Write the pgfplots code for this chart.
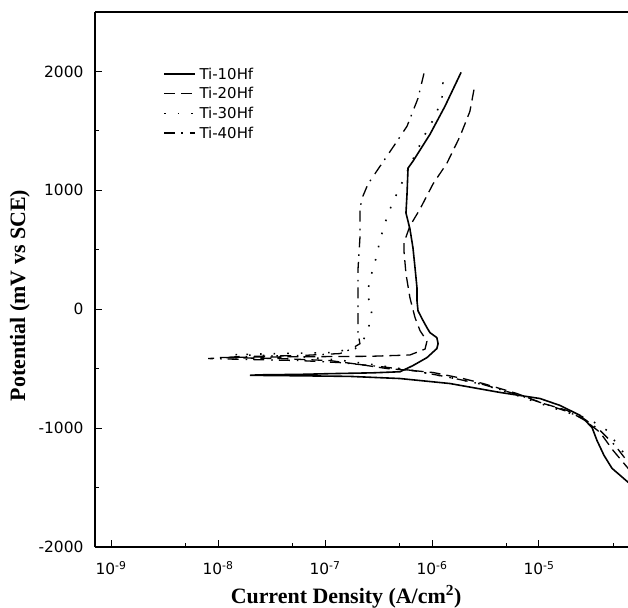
\documentclass[border=0pt]{standalone}
\usepackage{pgfplots}
\pgfplotsset{compat=1.18}
\usepackage{fontspec}
\setmainfont{Liberation Serif}
\newfontfamily\tickfont{DejaVu Sans}
\begin{document}
\begin{tikzpicture}
\useasboundingbox (-95bp,-61bp) rectangle (533bp,547bp);
\begin{axis}[
  at={(0bp,0bp)}, anchor=south west,
  width=533bp, height=535bp, scale only axis,
  xmode=log, xmin=7.08e-10, xmax=6.79e-5,
  ymin=-2000, ymax=2500,
  axis y line*=left,
  xtick pos=bottom, ytick pos=left,
  tick align=inside,
  major tick length=7bp, minor tick length=4bp,
  axis line style={line width=1.3bp},
  every tick/.style={black, line width=1bp},
  xtick={1e-9,1e-8,1e-7,1e-6,1e-5},
  xticklabels={10\textsuperscript{-9},10\textsuperscript{-8},10\textsuperscript{-7},10\textsuperscript{-6},10\textsuperscript{-5}},
  minor xtick={5e-10,5e-9,5e-8,5e-7,5e-6,5e-5},
  ytick={-2000,-1000,0,1000,2000},
  yticklabels={-2000,-1000,0,1000,2000},
  minor ytick={-1500,-500,500,1500},
  tick label style={font=\tickfont\fontsize{15.5}{17}\selectfont},
  xticklabel style={yshift=-11bp},
  yticklabel style={xshift=-8bp},
  xlabel={\textbf{Current Density (A/cm\textsuperscript{2})}},
  ylabel={\textbf{Potential (mV vs SCE)}},
  label style={font=\fontsize{22}{24}\selectfont},
  xlabel style={at={(axis description cs:0.471,-0.093)}, anchor=center},
  ylabel style={at={(axis description cs:-0.141,0.47)}, anchor=center},
  legend style={at={(axis description cs:0.128,0.898)}, anchor=north west,
    draw=none, fill=none, font=\tickfont\fontsize{15}{17}\selectfont,
    row sep=4.8bp, inner sep=0pt, nodes={inner xsep=3.5bp, inner ysep=1bp}},
  legend cell align=left,
  legend image code/.code={\draw[#1] (0bp,0bp) -- (31bp,0bp);},
]
% Ti-10Hf
\addplot[black, line width=1.6bp] coordinates {
(8.8e-5,-1539) (6.8e-5,-1455) (4.81e-5,-1338) (4.05e-5,-1229) (3.48e-5,-1103)
(3.13e-5,-994) (2.42e-5,-893) (1.57e-5,-809) (1.02e-5,-751) (4.32e-6,-700)
(1.47e-6,-625) (5.02e-7,-583) (1.71e-7,-565) (5.84e-8,-560) (1.99e-8,-556)
(2.4e-8,-552) (5.84e-8,-548) (1.11e-7,-542) (2.81e-7,-535) (5.02e-7,-526)
(6.64e-7,-474) (8.97e-7,-407) (1.11e-6,-331) (1.14e-6,-290) (1.11e-6,-239)
(9.57e-7,-197) (8.97e-7,-155) (8.07e-7,-80) (7.40e-7,-13) (7.24e-7,71)
(7.24e-7,180) (6.94e-7,348) (6.64e-7,516) (6.22e-7,675) (5.71e-7,809)
(5.84e-7,968) (5.97e-7,1187) (6.64e-7,1245) (9.57e-7,1471) (1.32e-6,1706)
(1.87e-6,1992)
};
% Ti-20Hf
\addplot[black, line width=1.3bp, dash pattern=on 11bp off 6bp] coordinates {
(8.8e-5,-1480) (6.8e-5,-1338) (4.92e-5,-1187) (3.72e-5,-1036) (2.69e-5,-935)
(1.83e-5,-851) (1.09e-5,-792) (6.22e-6,-709) (3.00e-6,-625) (1.95e-6,-583)
(1.02e-6,-532) (6.64e-7,-516) (3.79e-7,-499) (2.12e-7,-465) (1.11e-7,-432)
(3.80e-8,-415) (1.04e-8,-407) (2.47e-8,-402) (5.84e-8,-400) (2.64e-7,-396)
(6.22e-7,-385) (8.61e-7,-335) (8.97e-7,-269) (7.73e-7,-180) (6.94e-7,-71)
(6.22e-7,96) (5.71e-7,298) (5.47e-7,490) (5.47e-7,560) (6.22e-7,700)
(7.73e-7,843) (1.02e-6,1052) (1.38e-6,1229) (1.83e-6,1455) (2.26e-6,1664)
(2.52e-6,1891)
};
% Ti-30Hf
\addplot[black, line width=1.6bp, dash pattern=on 1.6bp off 12bp] coordinates {
(8.8e-5,-1380) (6.8e-5,-1255) (5.47e-5,-1145) (4.32e-5,-1019) (2.87e-5,-918)
(1.83e-5,-868) (1.09e-5,-801) (6.22e-6,-725) (3.00e-6,-633) (1.47e-6,-574)
(6.64e-7,-516) (3.27e-7,-474) (1.47e-7,-432) (5.84e-8,-398) (1.44e-8,-382)
(3.80e-8,-373) (1.11e-7,-365) (1.91e-7,-331) (2.22e-7,-290) (2.58e-7,-138)
(2.75e-7,-4) (2.47e-7,130) (2.69e-7,281) (3.00e-7,432) (3.27e-7,583)
(3.64e-7,726) (4.23e-7,885) (5.02e-7,1027) (6.50e-7,1245) (8.61e-7,1471)
(1.07e-6,1622) (1.24e-6,1774) (1.27e-6,1925) (1.29e-6,1983)
};
% Ti-40Hf
\addplot[black, line width=1.3bp, dash pattern=on 11bp off 6bp on 1.6bp off 7bp] coordinates {
(8.8e-5,-1421) (6.8e-5,-1287) (5.13e-5,-1145) (3.72e-5,-1019) (2.69e-5,-927)
(1.83e-5,-860) (1.09e-5,-792) (6.22e-6,-717) (3.00e-6,-633) (1.47e-6,-574)
(6.64e-7,-516) (3.27e-7,-482) (1.38e-7,-449) (5.84e-8,-432) (1.99e-8,-423)
(8.07e-9,-415) (1.61e-8,-398) (5.84e-8,-390) (1.38e-7,-373) (1.71e-7,-340)
(2.12e-7,-290) (2.03e-7,-197) (2.03e-7,-80) (2.03e-7,71) (2.03e-7,323)
(2.12e-7,600) (2.12e-7,851) (2.26e-7,951) (2.52e-7,1052) (3.13e-7,1178)
(3.79e-7,1287) (4.71e-7,1413) (5.84e-7,1539) (7.40e-7,1774) (8.41e-7,1983)
};
\legend{Ti-10Hf,Ti-20Hf,Ti-30Hf,Ti-40Hf}
\end{axis}
\end{tikzpicture}
\end{document}
